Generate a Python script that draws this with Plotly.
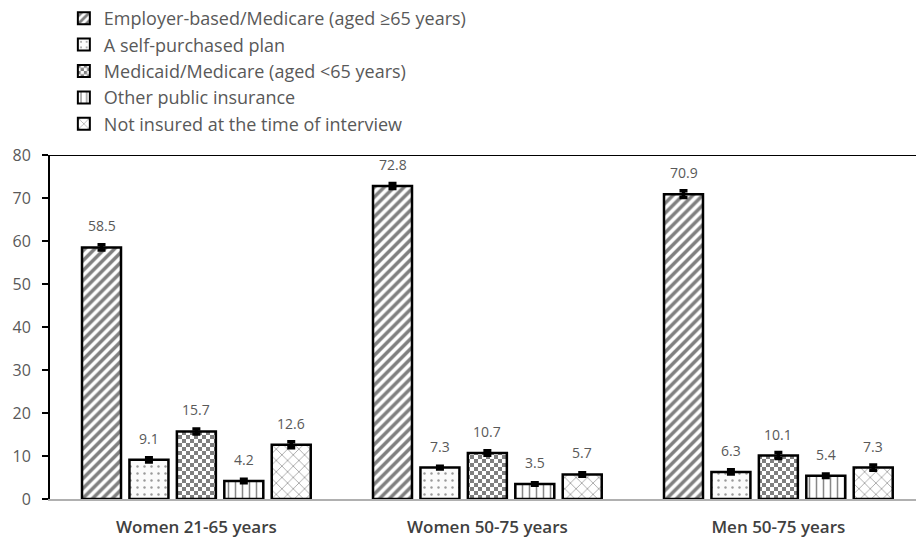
import plotly.graph_objects as go

# Insurance coverage by group (%)
groups = ["Women 21-65 years", "Women 50-75 years", "Men 50-75 years"]
series_names = [
    "Employer-based/Medicare (aged ≥65 years)",
    "A self-purchased plan",
    "Medicaid/Medicare (aged <65 years)",
    "Other public insurance",
    "Not insured at the time of interview",
]
employer = [58.5, 72.8, 70.9]
self_purchased = [9.1, 7.3, 6.3]
medicaid = [15.7, 10.7, 10.1]
other_public = [4.2, 3.5, 5.4]
not_insured = [12.6, 5.7, 7.3]

employer_err = [0.6, 0.6, 0.8]
self_purchased_err = [0.5, 0.3, 0.5]
medicaid_err = [0.6, 0.5, 0.7]
other_public_err = [0.4, 0.3, 0.4]
not_insured_err = [0.7, 0.4, 0.6]

values = [employer, self_purchased, medicaid, other_public, not_insured]
errors = [employer_err, self_purchased_err, medicaid_err, other_public_err, not_insured_err]

patterns = [
    dict(shape="/", size=7, solidity=0.5, fgcolor="black", bgcolor="white"),
    dict(shape=".", size=7, solidity=0.1, fgcolor="#3a3a3a", bgcolor="#fbfbfb"),
    dict(path="M0,0H4V4H0Z M4,4H8V8H4Z", size=8, solidity=1, fgcolor="black", bgcolor="white"),
    dict(shape="|", size=7, solidity=0.22, fgcolor="#111111", bgcolor="white"),
    dict(shape="x", size=8, solidity=0.18, fgcolor="#2a2a2a", bgcolor="white"),
]

step = 0.163
bar_w = 0.134
label_color = "#595959"
font_family = "Open Sans, sans-serif"

fig = go.Figure()
annotations = []
for j, (name, vals, errs, pat) in enumerate(zip(series_names, values, errors, patterns)):
    xs = [g + (j - 2) * step for g in range(len(groups))]
    fig.add_trace(go.Bar(
        name=name, x=xs, y=vals, width=bar_w,
        marker=dict(color="white", pattern=pat, line=dict(color="black", width=2.5)),
        error_y=dict(type="data", array=errs, color="black", thickness=3.5, width=4),
    ))
    for x, v in zip(xs, vals):
        annotations.append(dict(
            x=x, y=v, text=f"{v:.1f}", showarrow=False, yanchor="bottom", yshift=10,
            font=dict(family=font_family, size=14, color=label_color),
        ))

fig.update_layout(
    width=916, height=542,
    margin=dict(l=50, r=0, t=155, b=43, autoexpand=False),
    paper_bgcolor="white", plot_bgcolor="white",
    barmode="overlay",
    showlegend=True,
    legend=dict(
        x=0.016, y=1.0, xanchor="left", yanchor="top", yref="container",
        orientation="v", font=dict(family=font_family, size=18, color=label_color),
        tracegroupgap=0, itemsizing="constant", bgcolor="rgba(0,0,0,0)",
    ),
    annotations=annotations,
    xaxis=dict(
        range=[-0.503, 2.473], tickvals=list(range(len(groups))), ticktext=groups,
        showline=True, linecolor="#b0b0b0", linewidth=2, ticks="", showgrid=False,
        zeroline=False, ticklabelstandoff=12,
        tickfont=dict(family=font_family, size=17, color="#404040", weight=600),
    ),
    yaxis=dict(
        range=[0, 80], dtick=10, showline=True, linecolor="black", linewidth=2,
        ticks="outside", ticklen=6, tickwidth=1.5, tickcolor="black", showgrid=False,
        zeroline=False, ticklabelstandoff=8,
        tickfont=dict(family=font_family, size=16, color=label_color),
    ),
    shapes=[dict(type="line", xref="paper", yref="y", x0=0, x1=1, y0=80, y1=80,
                 line=dict(color="black", width=2))],
)

fig.write_html("out.html")
